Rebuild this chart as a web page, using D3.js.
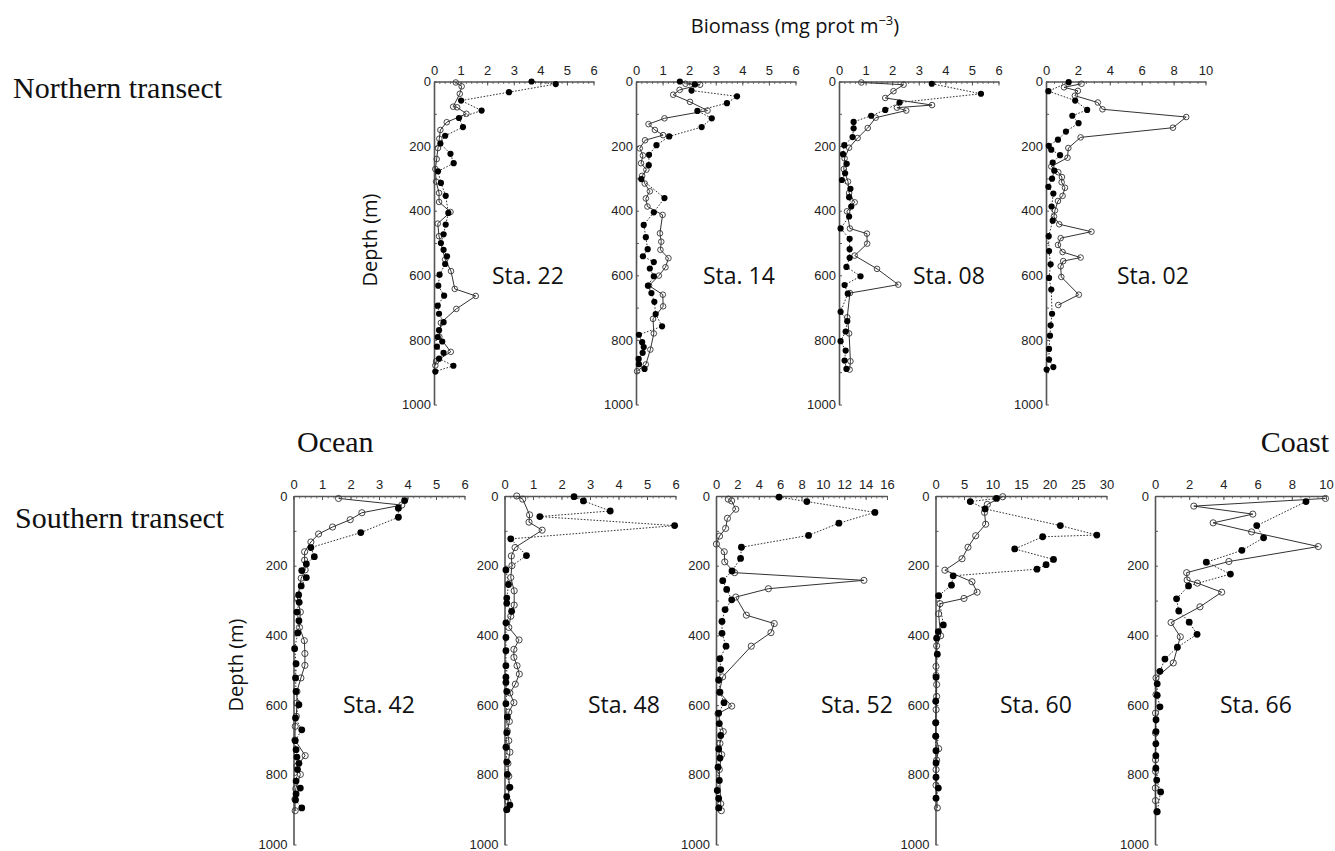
<!DOCTYPE html>
<html>
<head>
<meta charset="utf-8">
<script src="https://cdn.jsdelivr.net/npm/d3@7"></script>
<style>
  html, body { margin: 0; padding: 0; background: #fff; }
  svg { display: block; }
  .tick text { font-family: "Liberation Sans", Arial, sans-serif; font-size: 13px; fill: #222; }
</style>
</head>
<body>
<svg id="chart" width="1335" height="851"></svg>
<script>
// Station names, in drawing order (northern transect, then southern transect)
const stationNames = ["Sta. 22", "Sta. 14", "Sta. 08", "Sta. 02",
                      "Sta. 42", "Sta. 48", "Sta. 52", "Sta. 60", "Sta. 66"];

// Biomass axis maximum and label step for each station
const biomassMax  = [6, 6, 6, 10, 6, 6, 16, 30, 10];
const biomassStep = [1, 1, 1, 2, 1, 1, 2, 5, 2];
const minorStep   = [0.2, 0.2, 0.2, 0.5, 0.2, 0.2, 0.5, 1, 0.5];
const depthTicks  = [0, 100, 200, 300, 400, 500, 600, 700, 800, 900, 1000];

// Profiles as [depth (m), biomass (mg prot m-3)]
// open circles, solid line
const sta22Open = [[3,0.82],[15,1.04],[38,0.97],[78,0.72],[80,0.87],[100,1.22],[126,0.48],[150,0.24],[177,0.2],[206,0.15],[240,0.1],[271,0.05],[310,0.08],[345,0.19],[373,0.19],[404,0.62],[440,0.14],[479,0.19],[551,0.42],[587,0.64],[642,0.78],[664,1.57],[704,0.84],[747,0.26],[790,0.2],[837,0.63],[866,0.08],[879,0.05]];
const sta14Open = [[7,1.86],[10,2.41],[26,1.64],[41,1.40],[63,2.03],[90,2.69],[114,1.07],[132,0.47],[150,0.71],[166,1.02],[182,0.34],[207,0.14],[229,0.26],[253,0.19],[273,0.39],[292,0.23],[316,0.33],[340,0.52],[362,0.37],[387,0.43],[413,1.0],[470,0.9],[496,0.95],[521,0.92],[547,1.22],[575,1.11],[601,0.86],[632,0.49],[660,1.01],[696,1.02],[735,0.64],[780,0.67],[830,0.54],[876,0.37],[897,0.04]];
const sta08Open = [[3,0.84],[10,2.43],[30,2.05],[51,1.74],[73,3.5],[81,2.18],[90,2.53],[112,1.38],[144,1.08],[175,0.70],[205,0.38],[238,0.21],[271,0.18],[310,0.34],[345,0.38],[374,0.59],[402,0.30],[455,0.41],[471,1.05],[502,1.06],[539,0.59],[580,1.43],[629,2.23],[655,0.41],[730,0.31],[780,0.38],[866,0.43],[892,0.40]];
const sta02Open = [[7,2.23],[18,1.13],[29,2.0],[44,1.81],[65,3.25],[86,3.54],[110,8.79],[143,7.96],[173,2.17],[206,1.40],[236,1.35],[263,0.33],[281,0.77],[296,1.0],[312,0.98],[329,1.19],[354,1.04],[370,0.75],[399,0.56],[418,0.5],[442,0.83],[465,2.85],[485,0.92],[506,0.75],[528,1.04],[545,2.17],[556,1.08],[572,0.92],[605,0.96],[660,2.06],[692,0.77]];
const sta42Open = [[7,1.58],[26,3.80],[48,2.40],[68,1.99],[89,1.37],[109,0.88],[132,0.61],[160,0.39],[184,0.39],[212,0.41],[236,0.27],[293,0.14],[333,0.24],[377,0.21],[415,0.38],[452,0.40],[486,0.40],[522,0.26],[561,0.12],[594,0.12],[632,0.10],[661,0.06],[700,0.05],[745,0.41],[775,0.12],[799,0.24],[840,0.08],[870,0.05],[903,0.06]];
const sta48Open = [[0,0.43],[9,0.64],[54,0.88],[75,0.86],[98,1.32],[148,0.37],[172,0.24],[200,0.26],[234,0.22],[272,0.34],[313,0.34],[345,0.22],[377,0.15],[413,0.51],[440,0.33],[463,0.33],[487,0.44],[511,0.52],[540,0.38],[565,0.19],[593,0.33],[620,0.15],[647,0.17],[675,0.1],[702,0.15],[735,0.19],[767,0.12],[804,0.15],[836,0.17],[876,0.12],[900,0.08]];
const sta52Open = [[9,1.15],[14,1.46],[38,1.85],[64,1.07],[93,0.9],[115,0.33],[138,0.04],[160,0.77],[189,0.82],[220,1.74],[242,13.84],[266,4.9],[290,1.85],[342,2.84],[366,5.45],[392,5.14],[431,3.30],[519,0.62],[563,0.31],[603,1.47],[625,0.19],[676,0.68],[710,0.37],[742,0.53],[785,0.31],[883,0.44],[903,0.5]];
const sta60Open = [[2,11.8],[24,9.1],[47,8.6],[81,8.8],[114,7.05],[147,5.7],[180,4.65],[213,1.65],[246,6.4],[276,7.3],[294,5.0],[309,0.8],[338,0.55],[401,0.9],[430,0.2],[489,0.09],[515,0.1],[541,0.2],[575,0.2],[613,0.1],[650,0.05],[690,0.05],[725,0.56],[758,0.2],[785,0.1],[830,0.1],[895,0.32]];
const sta66Open = [[7,9.97],[29,2.27],[52,5.72],[77,3.4],[103,5.65],[145,9.55],[188,4.32],[220,1.85],[241,1.88],[250,2.48],[276,3.9],[318,2.63],[363,0.94],[404,1.48],[479,1.07],[522,0.06],[570,0.06],[623,0.03],[680,0.03],[757,0.03],[790,0.03],[838,0.02],[874,0.03],[906,0.1]];

// filled circles, dotted line
const sta22Filled = [[0,3.67],[8,4.58],[33,2.82],[59,1.02],[90,1.79],[113,0.94],[141,1.09],[168,0.42],[192,0.24],[224,0.62],[253,0.74],[278,0.15],[314,0.26],[354,0.44],[407,0.54],[443,0.44],[473,0.36],[500,0.26],[521,0.36],[541,0.49],[565,0.42],[598,0.21],[632,0.16],[663,0.38],[694,0.14],[719,0.19],[745,0.36],[770,0.19],[791,0.14],[805,0.31],[821,0.11],[840,0.36],[858,0.19],[880,0.73],[898,0.05]];
const sta14Filled = [[0,1.65],[9,2.21],[28,2.09],[46,3.80],[67,3.42],[91,2.31],[114,2.85],[141,2.47],[170,1.25],[197,0.77],[227,0.49],[259,0.48],[302,0.2],[361,1.07],[405,0.67],[444,0.29],[482,0.37],[519,0.44],[541,0.26],[559,0.67],[579,0.52],[603,0.67],[632,0.45],[655,0.58],[682,0.69],[720,0.74],[758,0.98],[784,0.11],[807,0.23],[822,0.29],[840,0.25],[859,0.1],[875,0.11],[890,0.32]];
const sta08Filled = [[7,3.49],[38,5.34],[65,2.28],[88,1.74],[106,1.21],[125,0.55],[145,0.55],[172,0.51],[197,0.20],[225,0.15],[255,0.29],[284,0.23],[305,0.11],[332,0.43],[358,0.38],[387,0.46],[418,0.38],[455,0.06],[487,0.40],[519,0.40],[546,0.40],[574,0.28],[603,0.81],[630,0.21],[657,0.33],[713,0.06],[742,0.31],[774,0.25],[804,0.06],[833,0.25],[864,0.21],[890,0.28]];
const sta02Filled = [[2,1.42],[30,0.15],[59,1.83],[88,2.58],[106,1.65],[129,2.04],[155,1.25],[180,0.75],[199,0.17],[211,0.33],[228,0.88],[251,0.42],[276,0.52],[301,0.38],[326,0.15],[347,0.46],[387,0.35],[431,0.42],[479,0.17],[525,0.19],[566,0.29],[608,0.19],[644,0.33],[719,0.38],[755,0.29],[787,0.25],[828,0.19],[861,0.19],[884,0.46],[892,0.04]];
const sta42Filled = [[13,3.9],[35,3.68],[61,3.68],[105,2.36],[148,0.61],[174,0.73],[195,0.45],[214,0.29],[234,0.45],[258,0.27],[284,0.18],[305,0.20],[333,0.12],[358,0.19],[393,0.15],[438,0.04],[481,0.09],[522,0.07],[561,0.09],[599,0.19],[637,0.07],[671,0.29],[702,0.06],[728,0.09],[749,0.12],[767,0.19],[785,0.14],[818,0.09],[838,0.24],[855,0.09],[872,0.07],[895,0.29]];
const sta48Filled = [[2,2.44],[14,2.77],[43,3.71],[59,1.24],[85,5.97],[123,0.22],[171,0.77],[212,0.05],[254,0.14],[293,0.08],[308,0.08],[331,0.25],[364,0.05],[406,0.05],[444,0.05],[487,0.05],[520,0.05],[535,0.05],[561,0.08],[596,0.05],[634,0.1],[679,0.08],[721,0.05],[763,0.08],[799,0.1],[836,0.19],[863,0.08],[887,0.19],[900,0.08]];
const sta52Filled = [[3,5.9],[16,8.5],[47,14.87],[78,11.5],[113,8.66],[147,2.38],[179,2.3],[215,1.5],[243,0.63],[268,1.0],[298,1.47],[326,0.85],[360,0.56],[394,0.56],[431,0.94],[467,0.37],[498,0.44],[528,0.25],[563,0.37],[593,0.75],[623,0.25],[653,0.31],[687,0.44],[726,0.25],[752,0.37],[778,0.19],[816,0.31],[845,0.12],[868,0.25],[895,0.25]];
const sta60Filled = [[7,10.7],[16,6.1],[37,8.7],[85,21.9],[112,28.3],[117,18.8],[152,13.9],[182,20.7],[197,19.4],[210,17.8],[229,3.1],[256,2.8],[286,0.55],[370,1.37],[389,0.5],[408,0.2],[454,0.32],[520,0.1],[589,0.04],[651,0.04],[689,0.04],[731,0.09],[766,0.09],[807,0.09],[838,0.5],[867,0.09]];
const sta66Filled = [[16,8.83],[85,5.95],[120,6.35],[156,5.08],[190,3.0],[224,4.41],[258,1.96],[295,1.26],[330,1.39],[362,2.0],[397,2.46],[434,1.31],[468,0.58],[503,0.29],[539,0.13],[572,0.13],[605,0.29],[642,0.06],[676,0.06],[711,0.05],[745,0.05],[781,0.05],[815,0.1],[849,0.33],[906,0.13]];

const openProfiles   = [sta22Open, sta14Open, sta08Open, sta02Open, sta42Open, sta48Open, sta52Open, sta60Open, sta66Open];
const filledProfiles = [sta22Filled, sta14Filled, sta08Filled, sta02Filled, sta42Filled, sta48Filled, sta52Filled, sta60Filled, sta66Filled];

// ---- layout ----
const rows = [
  { top: 81.5, bottom: 404.5, width: 159.5, r: 2.8, labelPad: 3, labelY: 284 },
  { top: 496,  bottom: 844.5, width: 171,   r: 3.1, labelPad: 6, labelY: 713 }
];
const panelRow  = [0, 0, 0, 0, 1, 1, 1, 1, 1];
const panelLeft = [434, 636, 839, 1046, 293.5, 504.5, 716, 935.5, 1155];
const nameX     = [492, 703, 913, 1117, 343, 588, 821, 1000, 1220];

const svg = d3.select("#chart");
const ink = "#333";
const axisInk = "#555";

stationNames.forEach((name, i) => {
  const row = rows[panelRow[i]];
  const left = panelLeft[i];
  const x = d3.scaleLinear().domain([0, biomassMax[i]]).range([left, left + row.width]);
  const y = d3.scaleLinear().domain([0, 1000]).range([row.top, row.bottom]);
  const g = svg.append("g");

  // minor ticks on the biomass axis
  const minor = d3.range(0, biomassMax[i] + 1e-9, minorStep[i]);
  g.append("g")
    .attr("transform", `translate(0,${row.top})`)
    .call(d3.axisTop(x).tickValues(minor).tickSize(-2.5).tickSizeOuter(0).tickFormat(""))
    .call(a => a.select(".domain").remove())
    .call(a => a.selectAll("line").attr("stroke", axisInk).attr("stroke-width", 0.8));

  // biomass axis along the top
  const major = d3.range(0, biomassMax[i] + 1e-9, biomassStep[i]);
  g.append("g")
    .attr("transform", `translate(0,${row.top})`)
    .call(d3.axisTop(x).tickValues(major).tickSize(-4).tickSizeOuter(0).tickPadding(7).tickFormat(d3.format("d")))
    .call(a => a.select(".domain").attr("stroke", axisInk).attr("stroke-width", 1.4))
    .call(a => a.selectAll("line").attr("stroke", axisInk));

  // depth axis along the left
  g.append("g")
    .attr("transform", `translate(${left},0)`)
    .call(d3.axisLeft(y).tickValues(depthTicks).tickSize(-3).tickSizeOuter(0).tickPadding(row.labelPad)
      .tickFormat(d => d % 200 === 0 ? d : ""))
    .call(a => a.select(".domain").attr("stroke", axisInk).attr("stroke-width", 1.6))
    .call(a => a.selectAll("line").attr("stroke", axisInk));

  const line = d3.line().x(d => x(d[1])).y(d => y(d[0]));

  g.append("path")
    .datum(filledProfiles[i])
    .attr("d", line)
    .attr("fill", "none")
    .attr("stroke", ink)
    .attr("stroke-width", 1)
    .attr("stroke-dasharray", "1.6,1.6");

  g.append("path")
    .datum(openProfiles[i])
    .attr("d", line)
    .attr("fill", "none")
    .attr("stroke", ink)
    .attr("stroke-width", 1);

  g.append("g").selectAll("circle")
    .data(openProfiles[i])
    .join("circle")
    .attr("cx", d => x(d[1]))
    .attr("cy", d => y(d[0]))
    .attr("r", row.r)
    .attr("fill", "none")
    .attr("stroke", ink)
    .attr("stroke-width", 0.9);

  g.append("g").selectAll("circle")
    .data(filledProfiles[i])
    .join("circle")
    .attr("cx", d => x(d[1]))
    .attr("cy", d => y(d[0]))
    .attr("r", row.r + 0.3)
    .attr("fill", "#000");

  g.append("text")
    .attr("x", nameX[i])
    .attr("y", row.labelY)
    .attr("font-family", "'Open Sans', 'Noto Sans', sans-serif")
    .attr("font-size", 23)
    .attr("fill", "#111")
    .text(name);
});

// shared texts
const sans = "'Open Sans', 'Noto Sans', sans-serif";
const serif = "'Liberation Serif', 'Times New Roman', serif";

const title = svg.append("text")
  .attr("x", 795).attr("y", 33)
  .attr("text-anchor", "middle")
  .attr("font-family", sans).attr("font-size", 20).attr("fill", "#111");
title.append("tspan").text("Biomass (mg prot m");
title.append("tspan").attr("dy", -8).attr("font-size", 13).text("\u22123");
title.append("tspan").attr("dy", 8).text(")");

[[372, 240], [238, 665]].forEach(([cx, cy]) => {
  svg.append("text")
    .attr("transform", `translate(${cx},${cy}) rotate(-90)`)
    .attr("text-anchor", "middle")
    .attr("dominant-baseline", "middle")
    .attr("font-family", sans).attr("font-size", 20).attr("fill", "#111")
    .text("Depth (m)");
});

const sideLabels = [
  { text: "Northern transect", x: 13, y: 98, anchor: "start" },
  { text: "Southern transect", x: 15, y: 528, anchor: "start" },
  { text: "Ocean", x: 297, y: 452, anchor: "start" },
  { text: "Coast", x: 1329, y: 452, anchor: "end" }
];
svg.selectAll("text.side")
  .data(sideLabels)
  .join("text")
  .attr("class", "side")
  .attr("x", d => d.x).attr("y", d => d.y)
  .attr("text-anchor", d => d.anchor)
  .attr("font-family", serif).attr("font-size", 30).attr("fill", "#111")
  .text(d => d.text);
</script>
</body>
</html>
